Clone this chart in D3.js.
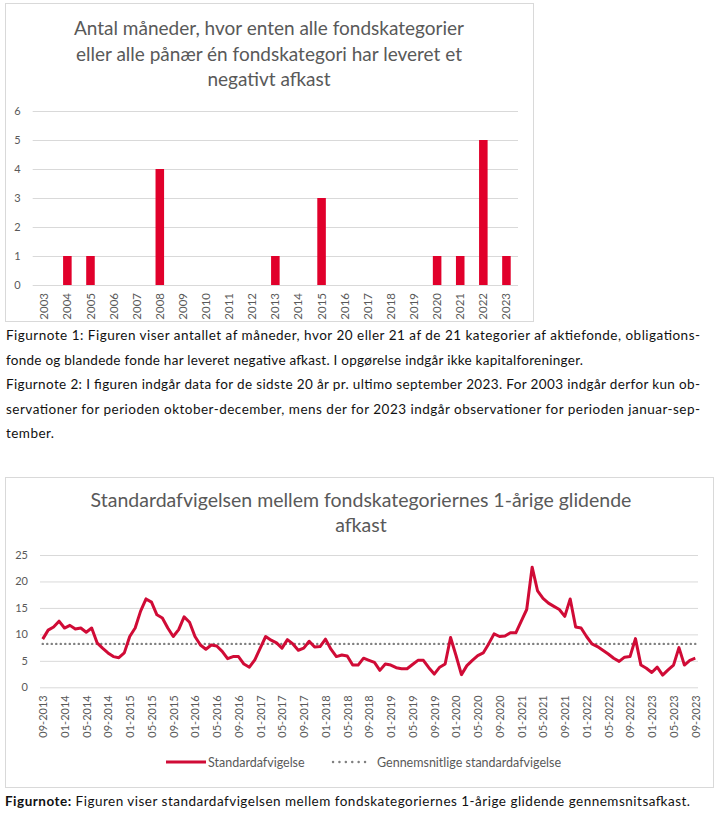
<!DOCTYPE html>
<html>
<head>
<meta charset="utf-8">
<script src="https://cdn.jsdelivr.net/npm/d3@7"></script>
<style>
  body { margin: 0; background: #fff; }
  svg text { font-family: Lato, "Open Sans", sans-serif; }
</style>
</head>
<body>
<svg id="chart"></svg>
<script>
// data: chart 1 (bars)
var years = ["2003","2004","2005","2006","2007","2008","2009","2010","2011","2012","2013",
  "2014","2015","2016","2017","2018","2019","2020","2021","2022","2023"];
var negMonths = [0,1,1,0,0,4,0,0,0,0,1,0,3,0,0,0,0,1,1,5,1];
var barTicks = [0,1,2,3,4,5,6];

// data: chart 2 (line), monthly 09-2013 .. 09-2023
var firstMonth = new Date(2013, 8, 1);
var stdDev = [
  9.1,10.8,11.4,12.5,11.2,11.7,11.0,11.2,10.4,11.2,8.4,7.4,            // 09-2013 .. 08-2014
  6.5,5.8,5.6,6.5,9.6,11.2,14.4,16.7,16.1,13.7,13.1,11.2,              // 09-2014 .. 08-2015
  9.6,10.9,13.3,12.3,9.6,8.0,7.2,8.0,7.8,6.8,5.4,5.8,                  // 09-2015 .. 08-2016
  5.8,4.4,3.8,5.2,7.4,9.6,8.9,8.4,7.4,9.0,8.2,7.0,                     // 09-2016 .. 08-2017
  7.4,8.7,7.6,7.7,9.1,7.2,5.8,6.1,5.9,4.2,4.2,5.5,                     // 09-2017 .. 08-2018
  5.1,4.7,3.2,4.4,4.2,3.7,3.5,3.5,4.3,5.1,5.1,3.7,                     // 09-2018 .. 08-2019
  2.5,3.8,4.4,9.4,6.0,2.4,4.1,5.1,6.0,6.5,8.2,10.1,                    // 09-2019 .. 08-2020
  9.6,9.7,10.3,10.3,12.5,14.7,22.7,18.2,16.8,15.9,15.3,14.7,           // 09-2020 .. 08-2021
  13.4,16.7,11.4,11.2,9.6,8.2,7.7,7.0,6.3,5.5,4.9,5.7,                 // 09-2021 .. 08-2022
  5.8,9.2,4.2,3.6,2.8,3.8,2.3,3.3,4.2,7.5,4.2,5.1,                     // 09-2022 .. 08-2023
  5.5                                                                  // 09-2023
];
var avgStdDev = 8.2;
var lineTicks = [0,5,10,15,20,25];

var months = stdDev.map(function(v, i) { return d3.timeMonth.offset(firstMonth, i); });
var lineData = months.map(function(m, i) { return { date: m, value: stdDev[i] }; });

var red = "#e1002b";
var lineRed = "#d00b36";
var grey = "#595959";
var gridCol = "#d9d9d9";

var svg = d3.select("#chart")
  .attr("width", 725)
  .attr("height", 813);

// ---------- chart 1 ----------
svg.append("rect")
  .attr("x", 5.5).attr("y", 3.5)
  .attr("width", 528).attr("height", 318)
  .attr("fill", "#fff").attr("stroke", gridCol);

var title1 = ["Antal måneder, hvor enten alle fondskategorier",
  "eller alle pånær én fondskategori har leveret et",
  "negativt afkast"];
svg.append("g").selectAll("text")
  .data(title1)
  .enter()
  .append("text")
  .attr("x", 269)
  .attr("y", (d, i) => 35 + i * 25.5)
  .attr("text-anchor", "middle")
  .style("font-size", "19px")
  .style("fill", grey)
  .text(d => d);

var xBar = d3.scaleBand()
  .domain(years)
  .range([32.7, 518])
  .paddingInner(0.63)
  .paddingOuter(0.315);

var yBar = d3.scaleLinear()
  .domain([0, 6])
  .range([285, 111]);

var barLeft = d3.axisLeft(yBar)
  .tickValues(barTicks)
  .tickFormat(d3.format("d"))
  .tickSize(-(518 - 32.7))
  .tickPadding(12);

var gy1 = svg.append("g")
  .attr("transform", "translate(32.7,0)")
  .call(barLeft);
gy1.select(".domain").remove();
gy1.selectAll("line").attr("stroke", gridCol);
gy1.selectAll("text").style("font-size", "11px").style("fill", grey);

svg.append("g").selectAll("rect")
  .data(years)
  .enter()
  .append("rect")
  .attr("x", d => xBar(d))
  .attr("y", (d, i) => yBar(negMonths[i]))
  .attr("width", xBar.bandwidth())
  .attr("height", (d, i) => yBar(0) - yBar(negMonths[i]))
  .attr("fill", red);

var gx1 = svg.append("g")
  .attr("transform", "translate(0,285)")
  .call(d3.axisBottom(xBar).tickSize(0));
gx1.select(".domain").remove();
gx1.selectAll("text")
  .attr("transform", "rotate(-90)")
  .attr("x", -8)
  .attr("y", 0)
  .attr("dy", "0.35em")
  .style("text-anchor", "end")
  .style("font-size", "11.5px")
  .style("fill", grey);

// footnotes chart 1
var notes1 = [
  { t: "Figurnote 1: Figuren viser antallet af måneder, hvor 20 eller 21 af de 21 kategorier af aktiefonde, obligations-", w: 694 },
  { t: "fonde og blandede fonde har leveret negative afkast. I opgørelse indgår ikke kapitalforeninger.", w: 577 },
  { t: "Figurnote 2: I figuren indgår data for de sidste 20 år pr. ultimo september 2023. For 2003 indgår derfor kun ob-", w: 694 },
  { t: "servationer for perioden oktober-december, mens der for 2023 indgår observationer for perioden januar-sep-", w: 694 },
  { t: "tember.", w: 48 }
];
svg.append("g").selectAll("text")
  .data(notes1)
  .enter()
  .append("text")
  .attr("x", 6)
  .attr("y", (d, i) => 340 + i * 24.6)
  .attr("textLength", d => d.w)
  .attr("lengthAdjust", "spacing")
  .style("font-size", "13.5px")
  .style("fill", "#111")
  .text(d => d.t);

// ---------- chart 2 ----------
svg.append("rect")
  .attr("x", 5.5).attr("y", 477.5)
  .attr("width", 708).attr("height", 310)
  .attr("fill", "#fff").attr("stroke", gridCol);

var title2 = ["Standardafvigelsen mellem fondskategoriernes 1-årige glidende", "afkast"];
svg.append("g").selectAll("text")
  .data(title2)
  .enter()
  .append("text")
  .attr("x", 361)
  .attr("y", (d, i) => 507 + i * 25)
  .attr("text-anchor", "middle")
  .style("font-size", "19.5px")
  .style("fill", grey)
  .text(d => d);

var xLine = d3.scalePoint()
  .domain(months)
  .range([40, 698])
  .padding(0.5);

var yLine = d3.scaleLinear()
  .domain([0, 25])
  .range([687.3, 555]);

var gy2 = svg.append("g")
  .attr("transform", "translate(40,0)")
  .call(d3.axisLeft(yLine).tickValues(lineTicks).tickSize(-(698 - 40)).tickPadding(12));
gy2.select(".domain").remove();
gy2.selectAll("line").attr("stroke", gridCol);
gy2.selectAll("text").style("font-size", "11px").style("fill", grey);

var tickMonths = months.filter((d, i) => i % 4 === 0);
var gx2 = svg.append("g")
  .attr("transform", "translate(0,687.3)")
  .call(d3.axisBottom(xLine).tickValues(tickMonths).tickSize(0).tickFormat(d3.timeFormat("%m-%Y")));
gx2.select(".domain").remove();
gx2.selectAll("text")
  .attr("transform", "rotate(-90)")
  .attr("x", -8)
  .attr("y", 0)
  .attr("dy", "0.35em")
  .style("text-anchor", "end")
  .style("font-size", "11px")
  .style("fill", grey);

// average line (dotted)
svg.append("path")
  .datum(lineData)
  .attr("fill", "none")
  .attr("stroke", "#808080")
  .attr("stroke-width", 2.4)
  .attr("stroke-linecap", "round")
  .attr("stroke-dasharray", "0.1,4.4")
  .attr("d", d3.line().x(d => xLine(d.date)).y(d => yLine(avgStdDev)));

// std dev line
svg.append("path")
  .datum(lineData)
  .attr("fill", "none")
  .attr("stroke", lineRed)
  .attr("stroke-width", 3)
  .attr("stroke-linejoin", "round")
  .attr("d", d3.line().x(d => xLine(d.date)).y(d => yLine(d.value)));

// legend
var legend = svg.append("g");
legend.append("line")
  .attr("x1", 166).attr("x2", 206).attr("y1", 762).attr("y2", 762)
  .attr("stroke", lineRed).attr("stroke-width", 3);
legend.append("text")
  .attr("x", 208).attr("y", 766.5)
  .style("font-size", "12.5px").style("fill", grey)
  .text("Standardafvigelse");
legend.append("line")
  .attr("x1", 333).attr("x2", 371).attr("y1", 762).attr("y2", 762)
  .attr("stroke", "#808080").attr("stroke-width", 2.4)
  .attr("stroke-linecap", "round").attr("stroke-dasharray", "0.1,6.3");
legend.append("text")
  .attr("x", 377).attr("y", 766.5)
  .style("font-size", "12.5px").style("fill", grey)
  .text("Gennemsnitlige standardafvigelse");

// footnote chart 2
var note2 = svg.append("text")
  .attr("x", 5)
  .attr("y", 806)
  .attr("textLength", 685)
  .attr("lengthAdjust", "spacing")
  .style("font-size", "13.5px")
  .style("fill", "#111");
note2.append("tspan").style("font-weight", "bold").text("Figurnote:");
note2.append("tspan").text(" Figuren viser standardafvigelsen mellem fondskategoriernes 1-årige glidende gennemsnitsafkast.");
</script>
</body>
</html>
